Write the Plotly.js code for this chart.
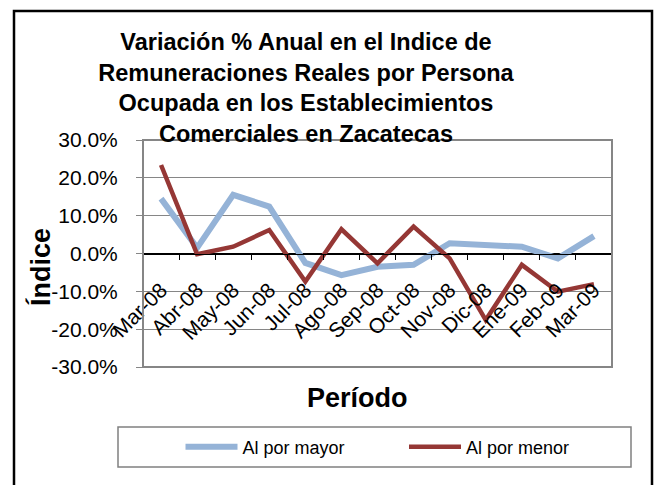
<!DOCTYPE html>
<html>
<head>
<meta charset="utf-8">
<script src="https://cdn.plot.ly/plotly-3.0.1.min.js"></script>
<style>
  html, body { margin: 0; padding: 0; background: #ffffff; }
  #chart { width: 655px; height: 485px; }
</style>
</head>
<body>
<div id="chart"></div>
<script>
// ---- data ----
const categories = ['Mar-08','Abr-08','May-08','Jun-08','Jul-08','Ago-08','Sep-08','Oct-08','Nov-08','Dic-08','Ene-09','Feb-09','Mar-09'];
const alPorMayor = [14.5, 1.5, 15.5, 12.4, -2.5, -5.7, -3.5, -3.0, 2.7, 2.2, 1.8, -1.3, 4.6];
const alPorMenor = [23.4, -0.2, 1.8, 6.2, -7.4, 6.4, -2.6, 7.1, -1.3, -17.6, -3.0, -10.1, -8.1];
const seriesNames = ['Al por mayor', 'Al por menor'];
const yTicks = [-30, -20, -10, 0, 10, 20, 30];
const yTickLabels = ['-30.0%', '-20.0%', '-10.0%', '0.0%', '10.0%', '20.0%', '30.0%'];

const FONT = 'Liberation Sans, Arial, Helvetica, sans-serif';

// plot area in px: left 143, right 612, top 140, bottom 367
const W = 655, H = 485, L = 143, R = 612, T = 140, B = 367;
const px = x => (x - L) / (R - L);
const py = y => (B - y) / (B - T);

const traces = [
  {
    x: categories, y: alPorMayor, name: seriesNames[0],
    type: 'scatter', mode: 'lines',
    line: { color: '#95B3D7', width: 6 }
  },
  {
    x: categories, y: alPorMenor, name: seriesNames[1],
    type: 'scatter', mode: 'lines',
    line: { color: '#953735', width: 4.5 }
  }
];

const layout = {
  width: W, height: H,
  margin: { l: L, r: W - R, t: T, b: H - B, pad: 0 },
  paper_bgcolor: '#ffffff',
  plot_bgcolor: '#ffffff',
  font: { family: FONT, size: 18, color: '#000000' },
  title: {
    text: 'Variación % Anual en el Indice de<br>Remuneraciones Reales por Persona<br>Ocupada en los Establecimientos<br>Comerciales en Zacatecas',
    font: { family: FONT, size: 23.5, color: '#000000', weight: 700 },
    xref: 'container', x: 306 / W, xanchor: 'center',
    yref: 'container', y: 1 - 50 / H, yanchor: 'top'
  },
  xaxis: {
    type: 'category',
    range: [-0.5, categories.length - 0.5],
    anchor: 'free', position: 0.5,
    showline: true, linecolor: '#000000', linewidth: 1,
    showgrid: false, zeroline: false,
    ticks: 'outside', tickson: 'boundaries', ticklen: 5, tickcolor: '#000000', tickwidth: 1,
    tickangle: -45,
    tickfont: { family: FONT, size: 21, color: '#000000' },
    ticklabelstandoff: 15,
    fixedrange: true
  },
  yaxis: {
    range: [-30, 30],
    tickvals: yTicks,
    ticktext: yTickLabels,
    showline: false,
    showgrid: true, gridcolor: '#868686', gridwidth: 1,
    zeroline: true, zerolinecolor: '#000000', zerolinewidth: 1,
    ticks: 'outside', ticklen: 6, tickcolor: '#868686', tickwidth: 1,
    tickfont: { family: FONT, size: 21, color: '#000000' },
    ticklabelstandoff: 14,
    fixedrange: true
  },
  showlegend: true,
  legend: {
    orientation: 'h',
    xref: 'paper', yref: 'paper',
    x: px(180.5), xanchor: 'left',
    y: py(447), yanchor: 'middle',
    bgcolor: 'rgba(0,0,0,0)', borderwidth: 0,
    itemwidth: 52,
    entrywidth: 156.5,
    font: { family: FONT, size: 18, color: '#000000' }
  },
  annotations: [
    {
      text: 'Período', showarrow: false,
      xref: 'paper', yref: 'paper', x: px(357), y: py(398),
      xanchor: 'center', yanchor: 'middle',
      font: { family: FONT, size: 27, color: '#000000', weight: 700 }
    },
    {
      text: 'Índice', showarrow: false, textangle: -90,
      xref: 'paper', yref: 'paper', x: px(40), y: py(267),
      xanchor: 'center', yanchor: 'middle',
      font: { family: FONT, size: 27, color: '#000000', weight: 700 }
    }
  ],
  shapes: [
    // plot area border
    { type: 'rect', xref: 'paper', yref: 'paper', x0: 0, x1: 1, y0: 0, y1: 1,
      line: { color: '#868686', width: 2 }, layer: 'above' },
    // legend box
    { type: 'rect', xref: 'paper', yref: 'paper', x0: px(118), x1: px(631), y0: py(467), y1: py(427),
      line: { color: '#808080', width: 1.5 }, layer: 'above' },
    // outer chart frame
    { type: 'rect', xref: 'paper', yref: 'paper', x0: px(14), x1: px(652), y0: py(495), y1: py(11),
      line: { color: '#000000', width: 2.5 }, layer: 'above' }
  ]
};

Plotly.newPlot('chart', traces, layout, { displayModeBar: false, staticPlot: true });
</script>
</body>
</html>
